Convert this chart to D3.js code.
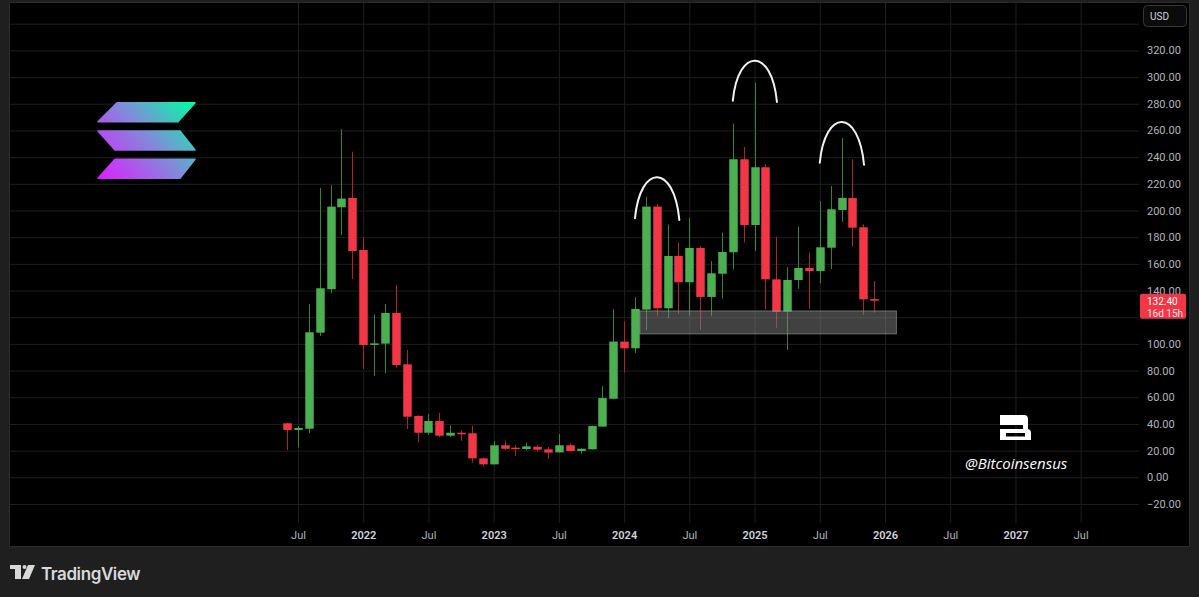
<!DOCTYPE html>
<html>
<head>
<meta charset="utf-8">
<script src="https://cdn.jsdelivr.net/npm/d3@7"></script>
<style>
  html, body { margin: 0; padding: 0; background: #1e1e1e; overflow: hidden; }
  svg { display: block; }
</style>
</head>
<body>
<div id="chart"></div>
<script>
// monthly SOL/USD candles, Jun 2021 -> Dec 2025
const opens  = [40.5, 35.5, 36.4, 108.4, 141, 202.4, 209.4, 170.4, 99.2, 100.2, 123.2, 84.7,
                46, 33.4, 42.2, 31.2, 33.4, 33, 14.2, 9.7, 24, 22.2, 21.2, 22.9,
                21, 18.7, 24, 19.7, 21, 38, 58.9, 101.7, 96.7, 125.7, 202.9, 126.7,
                165.9, 146.2, 171.9, 135.2, 152.6, 168.7, 238.4, 189.1, 232.4, 148.4, 124.1, 147.9,
                156.9, 154.6, 172.1, 200.4, 209.4, 187.4, 133.6];
const highs  = [40.8, 38.5, 130, 216.9, 219, 260.9, 244, 179.9, 122.2, 129.9, 144.2, 95.4,
                46.5, 47.4, 48.2, 39, 35, 38.7, 14.8, 27.2, 27.4, 24.2, 26, 24,
                22.7, 32.5, 25.5, 21.8, 38.8, 68.4, 126, 117, 135, 210.4, 204.9, 189.4,
                175.9, 194.4, 173.4, 162.1, 183.4, 265.1, 247.6, 295.8, 234.9, 180.4, 157.4, 187.9,
                168.4, 206.9, 218.4, 254.3, 238.4, 189.7, 147.2];
const lows   = [20.5, 22.5, 33, 106, 138, 181.6, 148.6, 81.2, 75.9, 78, 82.2, 36.2,
                26, 32, 30, 30.2, 27.4, 11, 8, 9.5, 20.5, 16, 20.2, 19.2,
                13.7, 18.4, 19.5, 17.7, 20.8, 37.8, 58.5, 78.4, 93, 110.4, 121, 119.2,
                122.4, 121, 110.4, 121, 133.9, 155.9, 175.9, 169.6, 125.9, 112.1, 95.4, 141.4,
                126.2, 145.4, 156.1, 191.6, 172.9, 121.7, 123.4];
const closes = [35.5, 37, 108.7, 141.7, 202.9, 208.9, 169.6, 99.2, 100.4, 123.2, 84.2, 45.4,
                33.4, 42.2, 31.2, 33.4, 32.5, 14.2, 9.7, 24, 21.4, 21.2, 23.2, 20.7,
                18.5, 24, 19.7, 21.4, 38.5, 59.4, 101.7, 96.7, 126.2, 202.9, 126.7, 165.9,
                146.2, 171.9, 135.2, 152.9, 168.9, 238.4, 189.1, 232.4, 148.4, 124.1, 147.9, 156.9,
                154.6, 172.4, 200.9, 209.4, 187.1, 133.4, 132.4];
const firstMonth = new Date(2021, 5, 1);

// axes (time positions are month numbers counted from Jan 2021)
const priceTicks = [-20, 0, 20, 40, 60, 80, 100, 140, 160, 180, 200, 220, 240, 260, 280, 300, 320]; // 120 sits under the price tag
const gridPrices = [-20, 0, 20, 40, 60, 80, 100, 120, 140, 160, 180, 200, 220, 240, 260, 280, 300, 320, 340];
const timeTicks  = [6, 12, 18, 24, 30, 36, 42, 48, 54, 60, 66, 72, 78];
const timeLabels = ["Jul", "2022", "Jul", "2023", "Jul", "2024", "Jul", "2025", "Jul", "2026", "Jul", "2027", "Jul"];

// drawings: support zone and the three tops  [month, price]
const zoneMonths = [37.45, 61.05];
const zonePrices = [107.5, 124.7];
const arcs = [
  [[37.0, 194.2], [39.05, 224.9], [41.08, 192.9]],
  [[46.0, 282.3], [48.04, 312.3], [50.06, 281.3]],
  [[54.0, 235.8], [56.02, 266.3], [58.07, 234.3]]
];
const lastLabel = ["132.40", "16d 15h"];

const W = 1199, H = 597;
const panel = {left: 9, top: 2, right: 1190, bottom: 547};
const plotRight = 1139, plotBottom = 523;
const up = "#4caf50", down = "#f23645";
const font = "Roboto, 'DejaVu Sans', sans-serif";

const svg = d3.select("#chart").append("svg")
  .attr("width", W)
  .attr("height", H);

svg.append("rect").attr("width", W).attr("height", H).attr("fill", "#1f1f1f");
svg.append("rect")
  .attr("x", panel.left + 0.5).attr("y", panel.top + 0.5)
  .attr("width", panel.right - panel.left - 1).attr("height", panel.bottom - panel.top - 1)
  .attr("fill", "#000").attr("stroke", "#2c2c2c");

const x = d3.scaleLinear().domain([6, 60]).range([298, 885]);
const y = d3.scaleLinear().domain([0, 320]).range([477.3, 50.4]);

//grid lines
svg.append("g")
  .attr("transform", `translate(${plotRight},0)`)
  .call(d3.axisLeft(y).tickValues(gridPrices).tickSize(plotRight - panel.left - 1).tickFormat(""))
  .call(g => g.select(".domain").remove())
  .selectAll("line").attr("stroke", "#1e1e1e");

svg.append("g")
  .attr("transform", `translate(0,${plotBottom})`)
  .call(d3.axisBottom(x).tickValues(timeTicks).tickSize(-(plotBottom - panel.top - 1)).tickFormat(""))
  .call(g => g.select(".domain").remove())
  .selectAll("line").attr("stroke", "#1e1e1e");

//price labels
let yAxis = svg.append("g")
  .attr("transform", `translate(${plotRight},0)`)
  .call(d3.axisRight(y).tickValues(priceTicks).tickSize(0).tickPadding(8).tickFormat(d3.format(".2f")));
yAxis.select(".domain").remove();
yAxis.selectAll("text")
  .attr("fill", "#b2b5be")
  .style("font-family", font)
  .style("font-size", "11px");

//time labels
let xAxis = svg.append("g")
  .attr("transform", `translate(0,${plotBottom})`)
  .call(d3.axisBottom(x).tickValues(timeTicks).tickSize(0).tickPadding(8)
    .tickFormat((d, i) => timeLabels[i]));
xAxis.select(".domain").remove();
xAxis.selectAll("text")
  .attr("fill", (d, i) => timeLabels[i] === "Jul" ? "#b2b5be" : "#d1d4dc")
  .style("font-weight", (d, i) => timeLabels[i] === "Jul" ? 400 : 600)
  .style("font-family", font)
  .style("font-size", "11px");

// candles
const months = d3.timeMonth.range(firstMonth, d3.timeMonth.offset(firstMonth, opens.length));
const candles = months.map((d, i) => ({
  m: (d.getFullYear() - 2021) * 12 + d.getMonth(),
  o: opens[i], h: highs[i], l: lows[i], c: closes[i]
}));
const bodyWidth = (x(1) - x(0)) * 0.78;

let candleLayer = svg.append("g");
candleLayer.selectAll("line")
  .data(candles)
  .join("line")
  .attr("x1", d => Math.round(x(d.m)) + 0.5)
  .attr("x2", d => Math.round(x(d.m)) + 0.5)
  .attr("y1", d => y(d.h))
  .attr("y2", d => y(d.l))
  .attr("stroke", d => d.c >= d.o ? "#33843a" : "#a52632")
  .attr("stroke-width", 1);

candleLayer.selectAll("rect")
  .data(candles)
  .join("rect")
  .attr("x", d => Math.round(x(d.m)) + 0.5 - bodyWidth / 2)
  .attr("y", d => y(Math.max(d.o, d.c)))
  .attr("width", bodyWidth)
  .attr("height", d => Math.max(1.5, Math.abs(y(d.o) - y(d.c))))
  .attr("fill", d => d.c >= d.o ? up : down);

// support zone
svg.append("rect")
  .attr("x", x(zoneMonths[0]))
  .attr("y", y(zonePrices[1]))
  .attr("width", x(zoneMonths[1]) - x(zoneMonths[0]))
  .attr("height", y(zonePrices[0]) - y(zonePrices[1]))
  .attr("fill", "rgba(130,130,130,0.5)")
  .attr("stroke", "rgba(170,170,170,0.55)")
  .attr("stroke-width", 1);

// the tops
svg.append("g").selectAll("path")
  .data(arcs)
  .join("path")
  .attr("d", a => {
    let p = d3.path();
    let x0 = x(a[0][0]), y0 = y(a[0][1]);
    let x2 = x(a[2][0]), y2 = y(a[2][1]);
    let yp = y(a[1][1]);
    let w = x2 - x0;
    let cy = yp - ((y0 + y2) / 2 - yp) / 3;
    p.moveTo(x0, y0);
    p.bezierCurveTo(x0 + w * 0.12, cy, x2 - w * 0.12, cy, x2, y2);
    return p.toString();
  })
  .attr("fill", "none")
  .attr("stroke", "#f2f2f2")
  .attr("stroke-width", 2)
  .attr("stroke-linecap", "round");

// last price label
let lastY = y(closes[closes.length - 1]);
svg.append("rect")
  .attr("x", 1140).attr("y", lastY - 7)
  .attr("width", 46).attr("height", 25)
  .attr("rx", 2)
  .attr("fill", down);
svg.append("text")
  .attr("x", 1147).attr("y", lastY + 1)
  .attr("dominant-baseline", "central")
  .attr("fill", "#fff")
  .style("font-family", font).style("font-size", "10px")
  .text(lastLabel[0]);
svg.append("text")
  .attr("x", 1147).attr("y", lastY + 13)
  .attr("dominant-baseline", "central")
  .attr("fill", "#ffe3e5")
  .style("font-family", font).style("font-size", "10px")
  .text(lastLabel[1]);

// USD box
svg.append("rect")
  .attr("x", 1143.5).attr("y", 5.5)
  .attr("width", 43).attr("height", 21)
  .attr("rx", 4)
  .attr("fill", "#0b0b0b").attr("stroke", "#363636");
svg.append("text")
  .attr("x", 1150).attr("y", 19.5)
  .attr("fill", "#d1d4dc")
  .style("font-family", font).style("font-size", "10px")
  .text("USD");

// solana logo
let defs = svg.append("defs");
let grad = defs.append("linearGradient")
  .attr("id", "sol")
  .attr("gradientUnits", "userSpaceOnUse")
  .attr("x1", 100).attr("y1", 180).attr("x2", 192).attr("y2", 100);
grad.append("stop").attr("offset", "0").attr("stop-color", "#dc1fff");
grad.append("stop").attr("offset", "0.55").attr("stop-color", "#7d8fd8");
grad.append("stop").attr("offset", "1").attr("stop-color", "#00ffa3");

let solBars = [
  [[98, 121.7], [117, 102.7], [195, 102.7], [178, 121.7]],
  [[98, 131], [180, 131], [195, 150], [115, 150]],
  [[98, 178.3], [115, 159.3], [195, 159.3], [180, 178.3]]
];
svg.append("g").selectAll("path")
  .data(solBars)
  .join("path")
  .attr("d", d => "M" + d.join("L") + "Z")
  .attr("fill", "url(#sol)")
  .attr("stroke", "url(#sol)")
  .attr("stroke-width", 1.5)
  .attr("stroke-linejoin", "round");

// bitcoinsensus watermark: blocky B, top slit open on the left
svg.append("path")
  .attr("d", "M1000,415 H1024 Q1028,415 1028,419 V429 H1027 Q1031,429 1031,433 V440 H1000 V429 H1023 V425 H1000 Z"
    + " M1006,433 V436.5 H1025 V433 Z")
  .attr("fill", "#fff")
  .attr("fill-rule", "evenodd");
svg.append("text")
  .attr("x", 965).attr("y", 469)
  .attr("fill", "#fff")
  .style("font-family", "'Open Sans', 'Noto Sans', sans-serif")
  .style("font-style", "italic")
  .style("font-weight", 500)
  .style("font-size", "15px")
  .text("@Bitcoinsensus");

// tradingview footer
let tv = svg.append("g").attr("fill", "#d9d9d9");
tv.append("rect").attr("x", 10).attr("y", 565).attr("width", 11).attr("height", 4);
tv.append("rect").attr("x", 15).attr("y", 565).attr("width", 6).attr("height", 14);
tv.append("circle").attr("cx", 24.5).attr("cy", 567).attr("r", 2);
tv.append("path").attr("d", "M28,565 L35,565 L29,579 L22,579 Z");
svg.append("text")
  .attr("x", 41).attr("y", 579.5)
  .attr("fill", "#d9d9d9")
  .style("font-family", "Inter, 'Open Sans', sans-serif")
  .style("font-weight", 600)
  .style("font-size", "17px")
  .style("letter-spacing", "-0.4px")
  .text("TradingView");
</script>
</body>
</html>
